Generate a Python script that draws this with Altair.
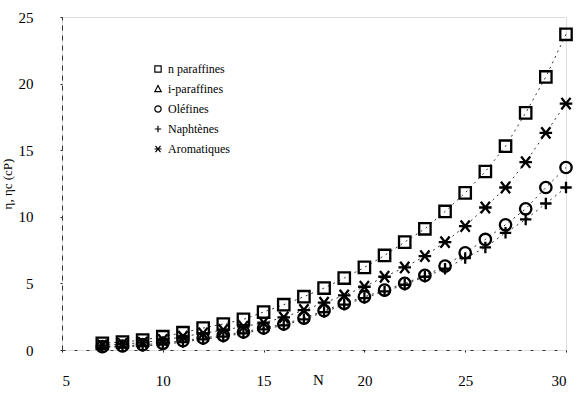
import altair as alt
import pandas as pd

# Carbon number of each measured compound
n_atoms = list(range(7, 31))

# Viscosity (cP) per hydrocarbon family
n_paraffines = [0.5, 0.6, 0.75, 1.0, 1.3, 1.65, 1.95, 2.3, 2.85, 3.4, 4.0, 4.65,
                5.4, 6.2, 7.1, 8.1, 9.1, 10.4, 11.8, 13.4, 15.3, 17.8, 20.5, 23.7]
aromatiques = [0.35, 0.45, 0.55, 0.75, 1.0, 1.25, 1.5, 1.75, 2.05, 2.45, 3.0, 3.55,
               4.1, 4.75, 5.5, 6.2, 7.05, 8.1, 9.3, 10.7, 12.2, 14.1, 16.3, 18.5]
olefines = [0.25, 0.3, 0.4, 0.5, 0.7, 0.9, 1.1, 1.35, 1.65, 1.95, 2.4, 2.95,
            3.5, 4.0, 4.5, 5.0, 5.6, 6.3, 7.3, 8.3, 9.4, 10.6, 12.2, 13.7]
naphtenes = [0.2, 0.25, 0.3, 0.4, 0.6, 0.8, 1.0, 1.25, 1.55, 1.85, 2.3, 2.85,
             3.4, 3.9, 4.4, 4.9, 5.5, 6.1, 6.9, 7.7, 8.8, 9.8, 11.0, 12.2]

families = ["n paraffines", "i-paraffines", "Oléfines", "Naphtènes", "Aromatiques"]
x_ticks = [5, 10, 15, 20, 25, 30]
y_ticks = [0, 5, 10, 15, 20, 25]

series = {
    "n paraffines": n_paraffines,
    "Oléfines": olefines,
    "Naphtènes": naphtenes,
    "Aromatiques": aromatiques,
}
rows = []
for fam, vals in series.items():
    for n, v in zip(n_atoms, vals):
        rows.append({"N": n, "eta": v, "famille": fam})
df = pd.DataFrame(rows)

# Stroked marker outlines
square = "M-1,-1L1,-1L1,1L-1,1Z"
triangle = "M0,-1.1L1,0.8L-1,0.8Z"
circle = "circle"
plus = "M-1,0L1,0M0,-1L0,1"
asterisk = "M-1.1,0L1.1,0M-0.8,-1L0.8,1M-0.8,1L0.8,-1"

serif = "Liberation Serif"

x_enc = alt.X("N:Q", scale=alt.Scale(domain=[5, 30], nice=False),
              axis=alt.Axis(values=x_ticks, title="N", titleX=256, titleY=22,
                            titleBaseline="top", titleFont=serif, titleFontSize=15,
                            titleFontWeight="normal",
                            labelFont=serif, labelFontSize=15, labelPadding=21,
                            tickSize=2, tickColor="#222", grid=False,
                            domainColor="#333", domainDash=[3, 9], domainWidth=1))
y_enc = alt.Y("eta:Q", scale=alt.Scale(domain=[0, 25], nice=False),
              axis=alt.Axis(values=y_ticks, title="η, ηc (cP)", titleFont=serif,
                            titleFontSize=13, titleFontWeight="normal", titlePadding=4,
                            labelFont=serif, labelFontSize=15, labelPadding=27,
                            tickSize=2, tickColor="#222", grid=False,
                            domainColor="#333", domainDash=[5, 5], domainWidth=1))

lines = alt.Chart(df).mark_line(color="black", strokeWidth=0.8, strokeDash=[2, 4]).encode(
    x=x_enc, y=y_enc, detail="famille:N"
)

points = alt.Chart(df).mark_point(filled=False, color="black", strokeWidth=2.3, opacity=1).encode(
    x="N:Q",
    y="eta:Q",
    shape=alt.Shape("famille:N",
                    scale=alt.Scale(domain=families,
                                    range=[square, triangle, circle, plus, asterisk]),
                    legend=alt.Legend(title=None, orient="none", legendX=90, legendY=46,
                                      labelFont=serif, labelFontSize=12, symbolSize=40,
                                      symbolStrokeWidth=1.2, symbolStrokeColor="black",
                                      symbolFillColor="transparent", rowPadding=8,
                                      labelColor="black")),
    size=alt.value(130),
)

chart = (
    alt.layer(lines, points)
    .properties(width=504, height=333,
                autosize=alt.AutoSizeParams(type="none"),
                padding={"left": 62, "top": 17, "right": 11, "bottom": 44})
    .configure_view(stroke=None)
    .configure(background="white")
)

chart.save("out.html", embed_options={"renderer": "svg", "actions": False})
